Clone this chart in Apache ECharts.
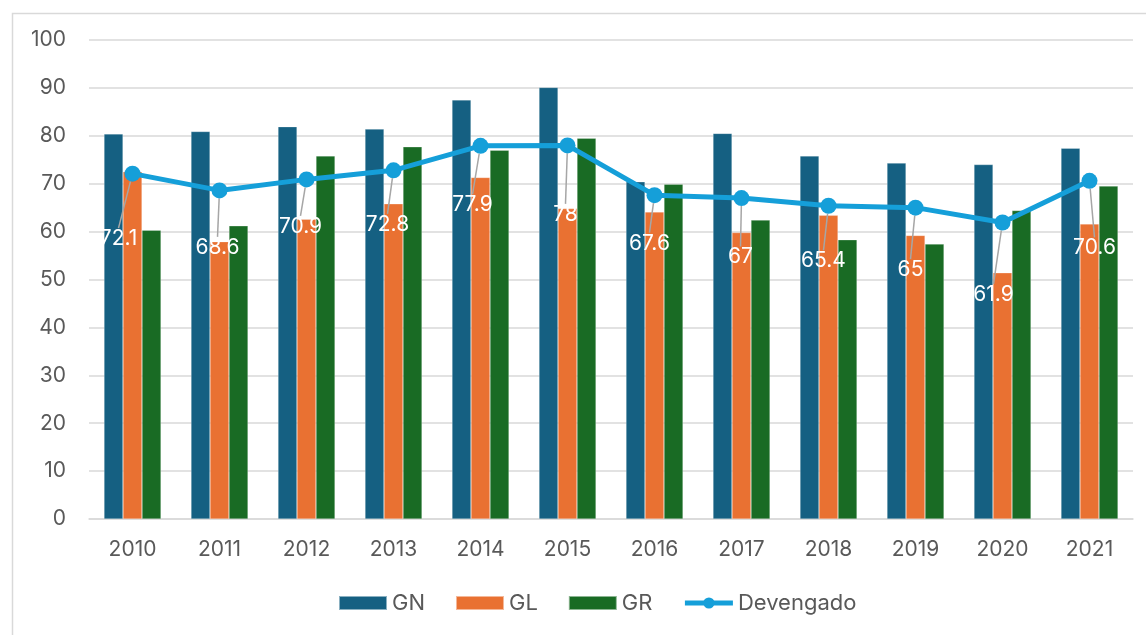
<!DOCTYPE html>
<html>
<head>
<meta charset="utf-8">
<script src="https://cdn.jsdelivr.net/npm/echarts@6/dist/echarts.min.js"></script>
<style>
html,body{margin:0;padding:0;background:#fff;}
#chart{width:1146px;height:635px;}
</style>
</head>
<body>
<div id="chart"></div>
<script>
const years = ['2010','2011','2012','2013','2014','2015','2016','2017','2018','2019','2020','2021'];
const GN = [80.4, 80.9, 81.9, 81.4, 87.5, 90.1, 70.4, 80.5, 75.8, 74.3, 74.0, 77.4];
const GL = [72.5, 57.9, 62.6, 65.8, 71.3, 64.8, 64.1, 59.8, 63.4, 59.2, 51.4, 61.6];
const GR = [60.3, 61.2, 75.8, 77.7, 77.0, 79.5, 69.9, 62.4, 58.3, 57.4, 64.4, 69.5];
const devengado = [72.1, 68.6, 70.9, 72.8, 77.9, 78, 67.6, 67, 65.4, 65, 61.9, 70.6];

// label displacement (styling only), pixels relative to the point
const labelShift = [[-14,65],[-2,57],[-6,47],[-6,54],[-8,59],[-2,69],[-5,48],[-1,59],[-5,55],[-5,62],[-9,72],[5,67]];

const font = 'Inter, "Open Sans", "Liberation Sans", sans-serif';
const chart = echarts.init(document.getElementById('chart'), null, {renderer:'canvas'});
chart.setOption({
  animation: false,
  backgroundColor: '#ffffff',
  graphic: [{
    type: 'rect', left: 10, top: 11,
    shape: {width: 1200, height: 700},
    style: {fill: 'none', stroke: '#d9d9d9', lineWidth: 1.5}, silent: true, z: -1
  }],
  grid: {left: 89, right: 13, top: 40, bottom: 116, containLabel: false},
  legend: {
    bottom: 16, left: 333, itemGap: 30, itemWidth: 48, itemHeight: 14,
    textStyle: {color: '#595959', fontSize: 22, fontFamily: font},
    data: [
      {name: 'GN', icon: 'rect'},
      {name: 'GL', icon: 'rect'},
      {name: 'GR', icon: 'rect'},
      {name: 'Devengado', itemStyle: {color: '#159FD9'}, lineStyle: {width: 5, color: '#159FD9'}}
    ]
  },
  xAxis: {
    type: 'category', data: years,
    axisLine: {lineStyle: {color: '#d9d9d9', width: 1.5}},
    axisTick: {show: false},
    axisLabel: {color: '#595959', fontSize: 21, fontFamily: font, margin: 20}
  },
  yAxis: {
    type: 'value', min: 0, max: 100, interval: 10,
    axisLine: {show: false}, axisTick: {show: false},
    splitLine: {lineStyle: {color: '#d9d9d9', width: 1.5}},
    axisLabel: {color: '#595959', fontSize: 21, fontFamily: font, margin: 23}
  },
  series: [
    {name: 'GN', type: 'bar', data: GN, barWidth: 19, barGap: '0%',
     itemStyle: {color: '#156082', borderColor: 'rgba(255,255,255,0.5)', borderWidth: 0.5}},
    {name: 'GL', type: 'bar', data: GL, barWidth: 19, barGap: '0%',
     itemStyle: {color: '#E97132', borderColor: 'rgba(255,255,255,0.5)', borderWidth: 0.5}},
    {name: 'GR', type: 'bar', data: GR, barWidth: 19, barGap: '0%',
     itemStyle: {color: '#196B24', borderColor: 'rgba(255,255,255,0.5)', borderWidth: 0.5}},
    {name: 'Devengado', type: 'line', data: devengado, z: 5,
     symbol: 'circle', symbolSize: 16,
     lineStyle: {color: '#159FD9', width: 5},
     itemStyle: {color: '#159FD9'},
     label: {show: true, position: 'inside', color: '#ffffff', fontSize: 21, fontFamily: font},
     labelLine: {show: true, lineStyle: {color: '#a6a6a6', width: 1.5}},
     labelLayout: function (p) {
       const s = labelShift[p.dataIndex];
       return {dx: s[0], dy: s[1]};
     }
    }
  ]
});
</script>
</body>
</html>
